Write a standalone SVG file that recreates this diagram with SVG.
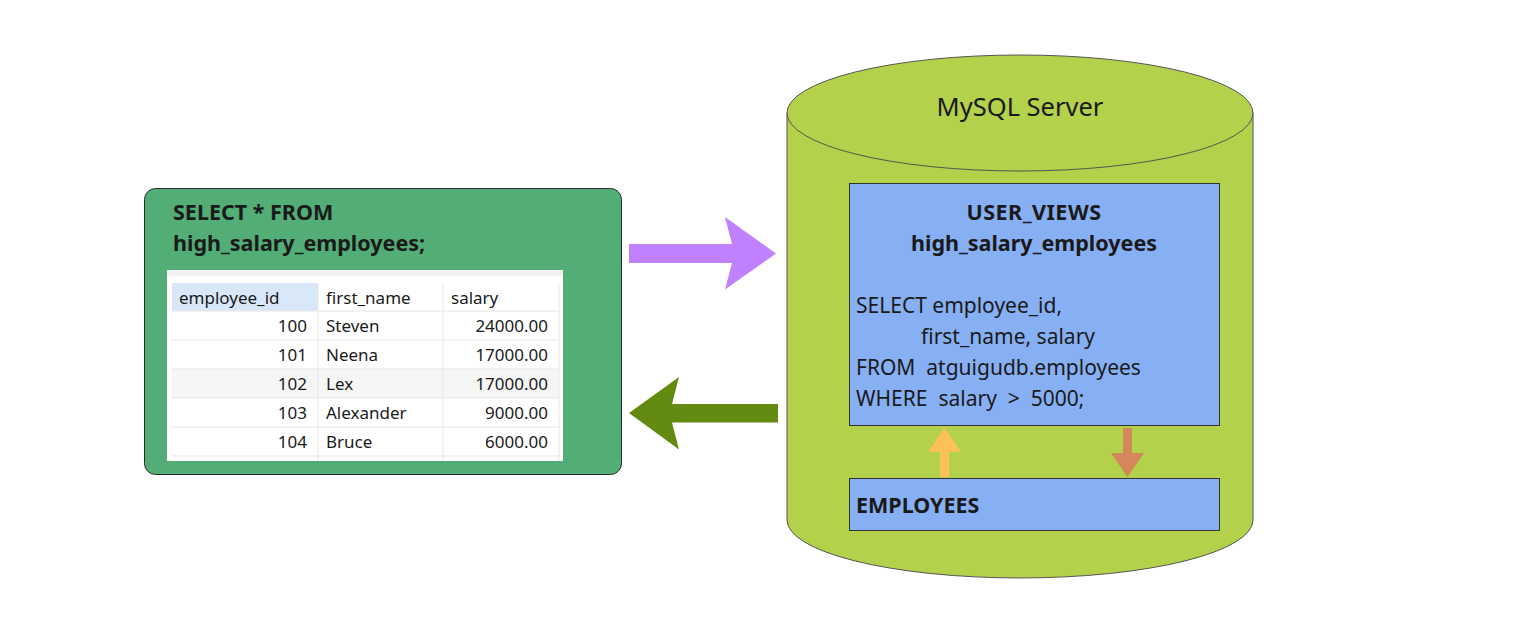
<svg xmlns="http://www.w3.org/2000/svg" width="1531" height="625" viewBox="0 0 1531 625">
<style>
.t{font-family:"Noto Sans","Open Sans","DejaVu Sans",sans-serif;fill:#1a1a1a}
.b{font-weight:bold;font-size:21.5px}
.n{font-size:21px}
.tb{font-size:17px}
.box{fill:#87aff3;stroke:#333;stroke-width:1}
.grid{stroke:#e6e6e6;stroke-width:1}
</style>
<rect width="1531" height="625" fill="#fff"/>
<g id="query">
<rect x="144.5" y="188.5" width="477" height="286" rx="11" fill="#52ad76" stroke="#2b2b2b" stroke-width="1"/>
<text class="t b" x="173" y="220">SELECT * FROM</text>
<text class="t b" x="173" y="251">high_salary_employees;</text>
<g id="table">
<rect x="167" y="270" width="396" height="191" fill="#fff"/>
<rect x="167" y="270" width="396" height="6" fill="#f1f1f1"/>
<rect x="172" y="283" width="146" height="28" fill="#d8e8f8"/>
<rect x="172" y="369" width="387" height="29" fill="#f6f6f6"/>
<g class="grid">
<line x1="172" y1="311" x2="559" y2="311"/>
<line x1="172" y1="340" x2="559" y2="340"/>
<line x1="172" y1="369" x2="559" y2="369"/>
<line x1="172" y1="398" x2="559" y2="398"/>
<line x1="172" y1="427" x2="559" y2="427"/>
<line x1="172" y1="456" x2="559" y2="456"/>
<line x1="318" y1="283" x2="318" y2="461"/>
<line x1="443" y1="283" x2="443" y2="461"/>
<line x1="559" y1="283" x2="559" y2="461"/>
</g>
<text class="t tb" x="179" y="304">employee_id</text>
<text class="t tb" x="326" y="304">first_name</text>
<text class="t tb" x="451" y="304">salary</text>
<g class="t tb" text-anchor="end">
<text x="307" y="332">100</text>
<text x="307" y="361">101</text>
<text x="307" y="390">102</text>
<text x="307" y="419">103</text>
<text x="307" y="448">104</text>
<text x="548" y="332">24000.00</text>
<text x="548" y="361">17000.00</text>
<text x="548" y="390">17000.00</text>
<text x="548" y="419">9000.00</text>
<text x="548" y="448">6000.00</text>
</g>
<g class="t tb">
<text x="326" y="332">Steven</text>
<text x="326" y="361">Neena</text>
<text x="326" y="390">Lex</text>
<text x="326" y="419">Alexander</text>
<text x="326" y="448">Bruce</text>
</g>
</g>
</g>
<g id="server">
<path d="M787,113 L787,520 A233,58 0 0 0 1253,520 L1253,113" fill="#b3d14a" stroke="#555" stroke-width="1"/>
<ellipse cx="1020" cy="113" rx="233" ry="58" fill="#b3d14a" stroke="#555" stroke-width="1"/>
<text class="t" x="1020" y="116" font-size="25.5" text-anchor="middle">MySQL Server</text>
</g>
<g id="user_views">
<rect class="box" x="849.5" y="183.5" width="370" height="242"/>
<text class="t b" x="1034" y="220" text-anchor="middle" letter-spacing="0.5">USER_VIEWS</text>
<text class="t b" x="1034" y="251" text-anchor="middle">high_salary_employees</text>
<text class="t n" x="856" y="313">SELECT employee_id,</text>
<text class="t n" x="921" y="344">first_name, salary</text>
<text class="t n" x="856" y="375" xml:space="preserve">FROM  atguigudb.employees</text>
<text class="t n" x="856" y="406" xml:space="preserve">WHERE  salary  &gt;  5000;</text>
</g>
<g id="employees">
<rect class="box" x="849.5" y="478.5" width="370" height="52"/>
<text class="t b" x="856" y="513">EMPLOYEES</text>
</g>
<g id="connectors">
<polygon points="629,244 732,244 725,217 776,253.5 725,289.5 732,263 629,263" fill="#c080ff"/>
<polygon points="778,404 672,404 679,377 629,413 679,449.5 672,422.5 778,422.5" fill="#638b12"/>
<polygon points="940,477 940,452 928,452 944.5,428 961,452 949,452 949,477" fill="#ffc05a"/>
<polygon points="1123,428 1132,428 1132,453 1144,453 1127.5,477 1111,453 1123,453" fill="#d5875c"/>
</g>
</svg>
